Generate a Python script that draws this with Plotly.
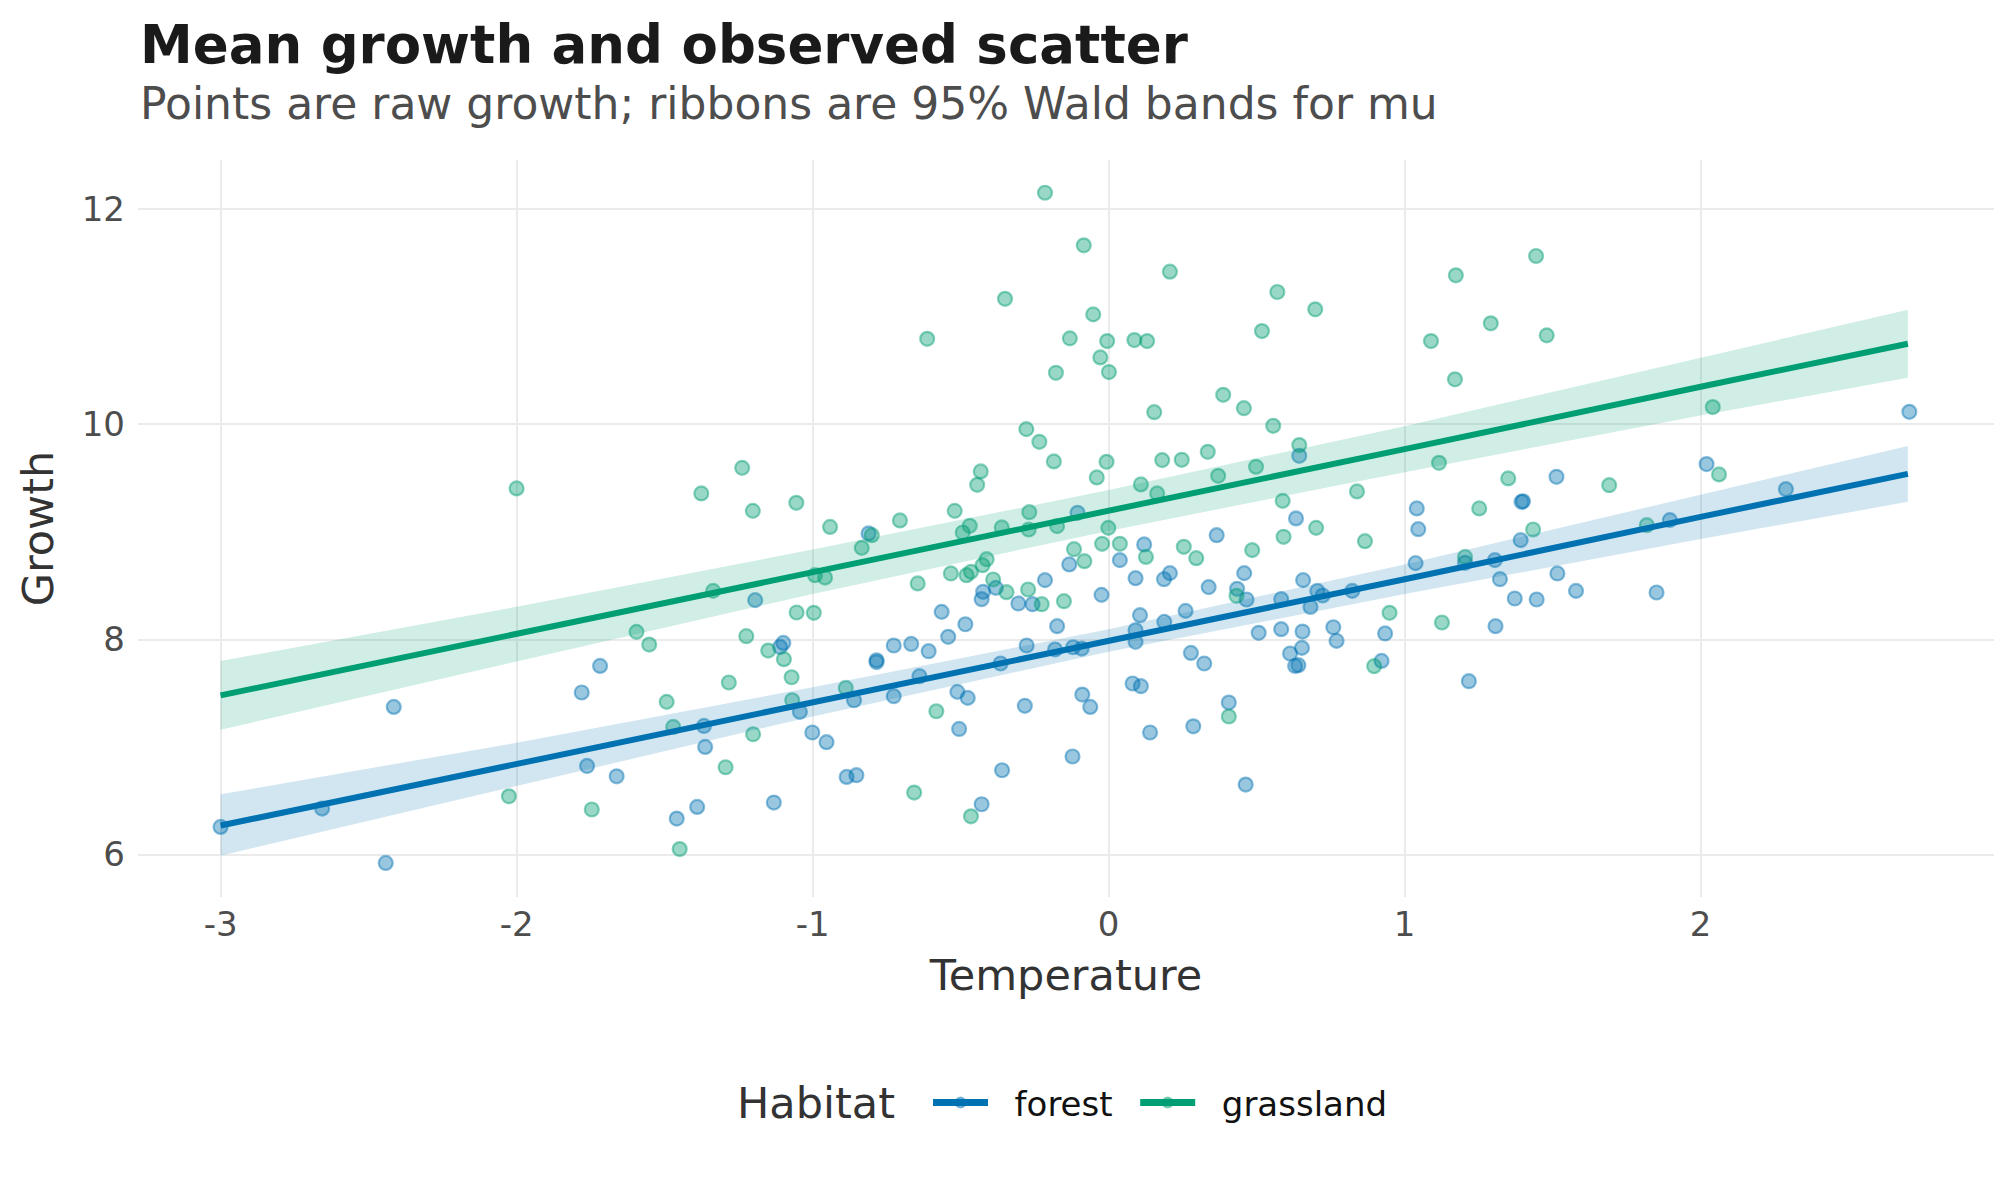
import plotly.graph_objects as go

# ---------------- data ----------------
forest_temp = [-3.000, -2.657, -2.442, -2.415, -1.780, -1.718, -1.762, -1.662, -1.459, -1.390,
               -1.367, -1.363, -1.194, -1.131, -1.110, -1.099, -1.043, -1.001, -0.953, -0.860,
               -0.885, -0.852, -0.811, -0.784, -0.784, -0.726, -0.726, -0.667, -0.639, -0.608,
               -0.564, -0.542, -0.484, -0.511, -0.476, -0.505, -0.424, -0.429, -0.381, -0.429,
               -0.360, -0.365, -0.305, -0.257, -0.215, -0.277, -0.283, -0.174, -0.181, -0.120,
               -0.091, -0.105, -0.133, -0.024, -0.089, -0.062, -0.122, 0.038, 0.120, 0.091,
               0.187, 0.207, 0.106, 0.091, 0.091, 0.188, 0.260, 0.278, 0.323, 0.081,
               0.109, 0.140, 0.286, 0.406, 0.463, 0.338, 0.365, 0.434, 0.458, 0.466,
               0.507, 0.583, 0.583, 0.613, 0.630, 0.641, 0.653, 0.655, 0.657, 0.682,
               0.705, 0.723, 0.633, 0.644, 0.759, 0.770, 0.823, 0.934, 0.922, 1.037,
               1.041, 1.046, 1.204, 1.217, 1.305, 1.322, 1.307, 1.372, 1.392, 1.395,
               1.400, 1.446, 1.513, 1.516, 1.579, 1.851, 1.896, 2.020, 2.288, 2.705]
forest_growth = [6.257, 6.428, 5.922, 7.373, 7.507, 7.754, 6.824, 6.728, 6.335, 6.443,
                 7.196, 7.001, 8.366, 6.484, 7.931, 7.968, 7.327, 7.135, 7.045, 7.435,
                 6.722, 6.738, 8.986, 7.807, 7.790, 7.944, 7.473, 7.959, 7.659, 7.891,
                 8.257, 8.025, 8.142, 7.513, 7.457, 7.168, 8.443, 8.375, 8.480, 6.468,
                 6.784, 7.777, 8.335, 8.328, 8.552, 7.944, 7.383, 8.124, 7.907, 7.928,
                 7.916, 9.178, 8.698, 8.415, 7.488, 7.373, 6.912, 8.738, 8.884, 8.570,
                 8.561, 8.617, 8.226, 8.087, 7.978, 8.164, 8.266, 7.875, 7.777, 7.591,
                 7.566, 7.135, 7.193, 7.414, 6.651, 8.487, 8.970, 8.471, 8.617, 8.372,
                 8.062, 8.375, 8.096, 7.870, 7.754, 7.761, 7.922, 8.074, 8.552, 8.303,
                 8.452, 8.409, 9.126, 9.708, 8.114, 7.987, 8.452, 8.056, 7.801, 8.710,
                 9.219, 9.026, 8.713, 7.612, 8.738, 8.561, 8.124, 8.381, 8.924, 9.280,
                 9.285, 8.372, 9.513, 8.614, 8.452, 8.437, 9.110, 9.631, 9.398, 10.117]

grass_temp = [-2.000, -2.026, -1.746, -1.595, -1.552, -1.493, -1.471, -1.449, -1.376, -1.336,
              -1.294, -1.283, -1.238, -1.224, -1.202, -1.201, -1.150, -1.097, -1.071, -1.069,
              -1.055, -1.054, -0.996, -0.992, -0.958, -0.941, -0.888, -0.834, -0.800, -0.705,
              -0.657, -0.645, -0.613, -0.582, -0.533, -0.520, -0.493, -0.469, -0.480, -0.465,
              -0.465, -0.444, -0.432, -0.426, -0.412, -0.390, -0.361, -0.350, -0.345, -0.278,
              -0.272, -0.268, -0.270, -0.234, -0.226, -0.215, -0.185, -0.178, -0.174, -0.151,
              -0.131, -0.117, -0.084, -0.082, -0.052, -0.040, -0.028, -0.022, -0.007, -0.005,
              -0.001, 0.001, 0.038, 0.087, 0.109, 0.126, 0.130, 0.154, 0.164, 0.181,
              0.207, 0.247, 0.254, 0.296, 0.335, 0.370, 0.387, 0.406, 0.432, 0.457,
              0.485, 0.498, 0.518, 0.556, 0.570, 0.588, 0.591, 0.644, 0.698, 0.701,
              0.839, 0.866, 0.897, 0.949, 1.089, 1.116, 1.126, 1.170, 1.173, 1.204,
              1.252, 1.291, 1.350, 1.434, 1.444, 1.480, 1.691, 1.818, 2.041, 2.062]
grass_growth = [9.405, 6.542, 6.419, 8.071, 7.953, 7.420, 7.187, 6.051, 9.358, 8.452,
                6.812, 7.600, 9.596, 8.031, 9.196, 7.119, 7.897, 7.817, 7.649, 7.435,
                9.271, 8.251, 8.248, 8.598, 8.576, 9.047, 7.550, 8.852, 8.970, 9.107,
                6.577, 8.521, 10.796, 7.333, 8.614, 9.196, 8.995, 9.057, 8.598, 8.629,
                6.356, 9.438, 9.563, 8.691, 8.747, 8.558, 9.042, 11.168, 8.440, 9.956,
                8.465, 9.184, 9.023, 9.838, 8.328, 12.154, 9.656, 10.480, 9.054, 8.356,
                10.800, 8.840, 11.665, 8.728, 11.023, 9.507, 10.623, 8.890, 9.652, 10.775,
                9.038, 10.487, 8.890, 10.784, 9.442, 8.768, 10.775, 10.114, 9.358, 9.668,
                11.420, 9.671, 8.862, 8.756, 9.745, 9.522, 10.275, 7.284, 8.406, 10.151,
                8.831, 9.606, 10.868, 9.987, 11.231, 9.289, 8.955, 9.808, 11.070, 9.038,
                9.377, 8.914, 7.752, 8.248, 10.775, 9.643, 8.158, 10.419, 11.386, 8.768,
                9.219, 10.940, 9.498, 9.023, 11.566, 10.828, 9.435, 9.063, 10.161, 9.535]

# fitted mean and 95% Wald band, read at a grid of temperatures
temp_grid = [-3.0, -2.0, -1.0, 0.0, 1.0, 2.0, 2.7]
forest_fit = [6.27, 6.84, 7.42, 7.99, 8.56, 9.14, 9.54]
forest_lo = [5.99, 6.64, 7.285, 7.885, 8.422, 8.934, 9.28]
forest_hi = [6.56, 7.04, 7.555, 8.095, 8.698, 9.346, 9.80]
grass_fit = [7.48, 8.05, 8.63, 9.20, 9.77, 10.35, 10.75]
grass_lo = [7.16, 7.796, 8.424, 9.01, 9.556, 10.082, 10.435]
grass_hi = [7.80, 8.304, 8.836, 9.39, 9.984, 10.618, 11.065]

x_ticks = [-3, -2, -1, 0, 1, 2]
x_ticklabels = ["-3", "-2", "-1", "0", "1", "2"]
y_ticks = [6, 8, 10, 12]
y_ticklabels = ["6", "8", "10", "12"]

habitats = ["forest", "grassland"]

# ---------------- style ----------------
FONT = "DejaVu Sans"
COL = {"forest": (0, 114, 178), "grassland": (0, 158, 115)}
NB = "\u00a0"
THIN = "\u2009"


def rgba(c, a):
    return "rgba(%d,%d,%d,%s)" % (c[0], c[1], c[2], a)


def hexc(c):
    return "#%02X%02X%02X" % c


series = {
    "forest": (forest_temp, forest_growth, forest_fit, forest_lo, forest_hi),
    "grassland": (grass_temp, grass_growth, grass_fit, grass_lo, grass_hi),
}

fig = go.Figure()

# points
for h in habitats:
    tx, gy, _, _, _ = series[h]
    c = COL[h]
    fig.add_trace(go.Scatter(
        x=tx, y=gy, mode="markers", showlegend=False, hoverinfo="skip",
        marker=dict(size=14, color=rgba(c, 0.4), line=dict(color=rgba(c, 0.45), width=2.2)),
    ))

# ribbons
for h in habitats:
    _, _, fit, lo, hi = series[h]
    c = COL[h]
    fig.add_trace(go.Scatter(
        x=temp_grid + temp_grid[::-1], y=hi + lo[::-1], mode="lines",
        fill="toself", fillcolor=rgba(c, 0.18), line=dict(width=0),
        showlegend=False, hoverinfo="skip",
    ))

# fitted lines
for h in habitats:
    _, _, fit, lo, hi = series[h]
    c = COL[h]
    fig.add_trace(go.Scatter(
        x=temp_grid, y=fit, mode="lines", line=dict(color=hexc(c), width=6),
        showlegend=False, hoverinfo="skip",
    ))

# legend keys
legend_names = {"forest": NB + NB + "forest" + NB + THIN, "grassland": NB + NB + "grassland"}
for h in habitats:
    c = COL[h]
    fig.add_trace(go.Scatter(
        x=[None], y=[None], mode="lines+markers", name=legend_names[h],
        line=dict(color=hexc(c), width=7),
        marker=dict(size=10, color=rgba(c, 0.4), line=dict(color=rgba(c, 0.45), width=2)),
    ))

LEG_Y = (897 - 1103) / 737

fig.update_layout(
    width=2016, height=1180,
    margin=dict(l=138, r=22, t=160, b=283, pad=0),
    paper_bgcolor="white", plot_bgcolor="white",
    font=dict(family=FONT, size=34, color="#333333"),
    showlegend=True,
    legend=dict(
        orientation="h", x=(928 - 138) / 1856, xanchor="left", y=LEG_Y, yanchor="middle",
        font=dict(family=FONT, size=34, color="#111111"),
        itemwidth=55, bgcolor="rgba(0,0,0,0)", borderwidth=0,
    ),
    xaxis=dict(
        range=[-3.279, 2.991], tickvals=x_ticks, ticktext=x_ticklabels,
        showgrid=True, gridcolor="#EBEBEB", gridwidth=2.2, zeroline=False, showline=False,
        ticks="", ticklabelstandoff=4,
        tickfont=dict(family=FONT, size=34, color="#4D4D4D"),
        title=dict(text="Temperature", standoff=16, font=dict(family=FONT, size=43, color="#333333")),
    ),
    yaxis=dict(
        range=[5.6056, 12.4586], tickvals=y_ticks, ticktext=y_ticklabels,
        showgrid=True, gridcolor="#EBEBEB", gridwidth=2.2, zeroline=False, showline=False,
        ticks="", ticklabelstandoff=12,
        tickfont=dict(family=FONT, size=34, color="#4D4D4D"),
        title=dict(text="Growth", standoff=14, font=dict(family=FONT, size=43, color="#333333")),
    ),
    annotations=[
        dict(text="<b>Mean growth and observed scatter</b>", xref="paper", yref="paper",
             x=0, y=(897 - 44) / 737, xanchor="left", yanchor="middle", showarrow=False,
             font=dict(family=FONT, size=53, color="#1A1A1A")),
        dict(text="Points are raw growth; ribbons are 95% Wald bands for mu", xref="paper", yref="paper",
             x=0, y=(897 - 103) / 737, xanchor="left", yanchor="middle", showarrow=False,
             font=dict(family=FONT, size=44, color="#4D4D4D")),
        dict(text="Habitat", xref="paper", yref="paper",
             x=(897 - 138) / 1856, y=LEG_Y, xanchor="right", yanchor="middle", showarrow=False,
             font=dict(family=FONT, size=43, color="#333333")),
    ],
)

fig.write_html("out.html")
